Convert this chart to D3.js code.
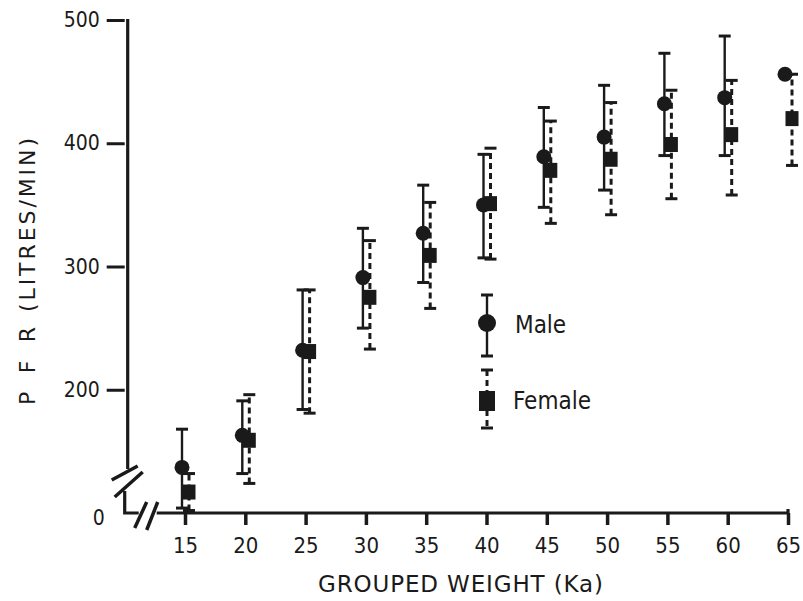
<!DOCTYPE html>
<html>
<head>
<meta charset="utf-8">
<script src="https://cdn.jsdelivr.net/npm/d3@7"></script>
<style>
  body { margin: 0; background: #fff; }
  text { font-family: "DejaVu Sans Condensed", "DejaVu Sans", sans-serif; fill: #1a1a1a; }
  text.title { font-family: "DejaVu Sans", sans-serif; }
</style>
</head>
<body>
<div id="chart"></div>
<script>
// Grouped weight (kg) and PFR (litres/min)
var weights = [15, 20, 25, 30, 35, 40, 45, 50, 55, 60, 65];

var maleMean = [137, 163, 232, 291, 327, 350, 389, 405, 432, 437, 456];
var maleLow  = [104, 132, 184, 250, 287, 307, 348, 362, 390, 390, null];
var maleHigh = [168, 191, 281, 331, 366, 391, 429, 447, 473, 487, null];

var femaleMean = [117, 159, 231, 275, 309, 351, 378, 387, 399, 407, 420];
var femaleLow  = [102, 124, 181, 233, 266, 306, 335, 342, 355, 358, 382];
var femaleHigh = [132, 196, 281, 321, 352, 396, 418, 433, 443, 451, 456];

var xTicks = [15, 20, 25, 30, 35, 40, 45, 50, 55, 60, 65];
var yTicks = [100, 200, 300, 400, 500];
var yTickLabels = ["0", "200", "300", "400", "500"];

var width = 803, height = 601;
var ink = "#1a1a1a";

var svg = d3.select("#chart").append("svg")
  .attr("width", width)
  .attr("height", height);

// x: 15 -> 185px, 65 -> 788px ; y: origin shown as 0 sits where 100 would be
var x = d3.scaleLinear().domain([15, 65]).range([185, 788]);
var y = d3.scaleLinear().domain([100, 500]).range([513, 20]);

var x0 = x(10), y0 = y(100);

// axes (ticks + labels only, the lines are drawn by hand because of the breaks)
var xAxis = svg.append("g")
  .attr("transform", "translate(0," + y0 + ")")
  .call(d3.axisBottom(x).tickValues(xTicks).tickSize(12).tickPadding(12).tickFormat(d3.format("d")));
xAxis.select(".domain").remove();
xAxis.selectAll(".tick line").attr("stroke", ink).attr("stroke-width", 3.5);
xAxis.selectAll(".tick text").attr("font-size", 22).attr("fill", ink);

var yAxis = svg.append("g")
  .attr("transform", "translate(" + x0 + ",0)")
  .call(d3.axisLeft(y).tickValues(yTicks).tickSize(18).tickPadding(7)
    .tickFormat(function(d, i){ return yTickLabels[i]; }));
yAxis.select(".domain").remove();
yAxis.selectAll(".tick line").attr("stroke", ink).attr("stroke-width", 3)
  .filter(function(d){ return d === 100; }).remove();
yAxis.selectAll(".tick text").attr("font-size", 21).attr("fill", ink)
  .filter(function(d){ return d === 100; })
  .attr("dy", "0.55em").attr("x", -20);

// axis lines with breaks
var axisLines = svg.append("g")
  .attr("fill", "none")
  .attr("stroke", ink)
  .attr("stroke-width", 3.2);

axisLines.append("path").attr("d", "M" + (x0 + 3) + "," + (y(500) - 1) + "V" + (y0 - 44));
axisLines.append("path").attr("d", "M" + x0 + "," + (y0 - 22) + "V" + y0 + "H" + (x0 + 14));
axisLines.append("path").attr("d", "M" + (x0 + 32) + "," + y0 + "H" + x(65));
axisLines.append("path").attr("d", "M" + x(65) + "," + (y0 - 4) + "V" + y0);

// break slashes
var slashes = svg.append("g").attr("stroke", ink).attr("stroke-width", 3.5);
slashes.append("line").attr("x1", x0 - 13).attr("y1", y0 - 33).attr("x2", x0 + 13).attr("y2", y0 - 47);
slashes.append("line").attr("x1", x0 - 10).attr("y1", y0 - 16).attr("x2", x0 + 18).attr("y2", y0 - 41);
slashes.append("line").attr("x1", x0 + 10).attr("y1", y0 + 15).attr("x2", x0 + 22).attr("y2", y0 - 11);
slashes.append("line").attr("x1", x0 + 22).attr("y1", y0 + 17).attr("x2", x0 + 33).attr("y2", y0 - 11);

// axis titles
svg.append("text")
  .attr("class", "title")
  .attr("x", 318).attr("y", 592)
  .attr("font-size", 23)
  .attr("textLength", 285).attr("lengthAdjust", "spacing")
  .text("GROUPED WEIGHT (Ka)");

var yTitle = svg.append("g").attr("transform", "translate(35,0) rotate(-90)");
yTitle.append("text")
  .attr("class", "title")
  .attr("x", -405).attr("y", 0)
  .attr("font-size", 22)
  .attr("textLength", 78).attr("lengthAdjust", "spacing")
  .text("P F R");
yTitle.append("text")
  .attr("class", "title")
  .attr("x", -312).attr("y", 0)
  .attr("font-size", 22)
  .attr("textLength", 174).attr("lengthAdjust", "spacing")
  .text("(LITRES/MIN)");

// data
var male = weights.map(function(w, i){
  return {w: w, mean: maleMean[i], lo: maleLow[i], hi: maleHigh[i]};
});
var female = weights.map(function(w, i){
  return {w: w, mean: femaleMean[i], lo: femaleLow[i], hi: femaleHigh[i]};
});

var mOff = -3, fOff = 4, cap = 6;

function errorBars(name, data, off, dash) {
  var g = svg.append("g").attr("id", name)
    .attr("stroke", ink).attr("fill", "none");
  var withBars = data.filter(function(d){ return d.lo !== null; });
  g.selectAll("line.bar").data(withBars).enter().append("line")
    .attr("class", "bar")
    .attr("x1", function(d){ return x(d.w) + off; })
    .attr("x2", function(d){ return x(d.w) + off; })
    .attr("y1", function(d){ return y(d.lo); })
    .attr("y2", function(d){ return y(d.hi); })
    .attr("stroke-width", dash ? 3 : 2.4)
    .attr("stroke-dasharray", dash ? "6,4" : null);
  ["lo", "hi"].forEach(function(k){
    g.selectAll("line.cap-" + k).data(withBars).enter().append("line")
      .attr("class", "cap-" + k)
      .attr("x1", function(d){ return x(d.w) + off - cap; })
      .attr("x2", function(d){ return x(d.w) + off + cap; })
      .attr("y1", function(d){ return y(d[k]); })
      .attr("y2", function(d){ return y(d[k]); })
      .attr("stroke-width", 3);
  });
}

errorBars("male-bars", male, mOff, false);
errorBars("female-bars", female, fOff, true);

svg.append("g").attr("id", "female-points")
  .selectAll("rect").data(female).enter().append("rect")
  .attr("x", function(d){ return x(d.w) + fOff - 6.5; })
  .attr("y", function(d){ return y(d.mean) - 7.5; })
  .attr("width", 13).attr("height", 15)
  .attr("fill", ink);

svg.append("g").attr("id", "male-points")
  .selectAll("circle").data(male).enter().append("circle")
  .attr("cx", function(d){ return x(d.w) + mOff; })
  .attr("cy", function(d){ return y(d.mean); })
  .attr("r", 7.5)
  .attr("fill", ink);

// legend
var lg = svg.append("g").attr("stroke", ink);
lg.append("line").attr("x1", 487).attr("x2", 487).attr("y1", 295).attr("y2", 356).attr("stroke-width", 2.4);
lg.append("line").attr("x1", 481).attr("x2", 493).attr("y1", 295).attr("y2", 295).attr("stroke-width", 3);
lg.append("line").attr("x1", 481).attr("x2", 493).attr("y1", 356).attr("y2", 356).attr("stroke-width", 3);
lg.append("circle").attr("cx", 487).attr("cy", 323).attr("r", 9).attr("fill", ink).attr("stroke", "none");

lg.append("line").attr("x1", 487).attr("x2", 487).attr("y1", 370).attr("y2", 428)
  .attr("stroke-width", 3).attr("stroke-dasharray", "6,4");
lg.append("line").attr("x1", 481).attr("x2", 493).attr("y1", 370).attr("y2", 370).attr("stroke-width", 3);
lg.append("line").attr("x1", 481).attr("x2", 493).attr("y1", 428).attr("y2", 428).attr("stroke-width", 3);
lg.append("rect").attr("x", 479).attr("y", 391).attr("width", 16).attr("height", 20).attr("fill", ink).attr("stroke", "none");

svg.append("text").attr("x", 515).attr("y", 333).attr("font-size", 24).text("Male");
svg.append("text").attr("x", 513).attr("y", 409).attr("font-size", 24).text("Female");
</script>
</body>
</html>
